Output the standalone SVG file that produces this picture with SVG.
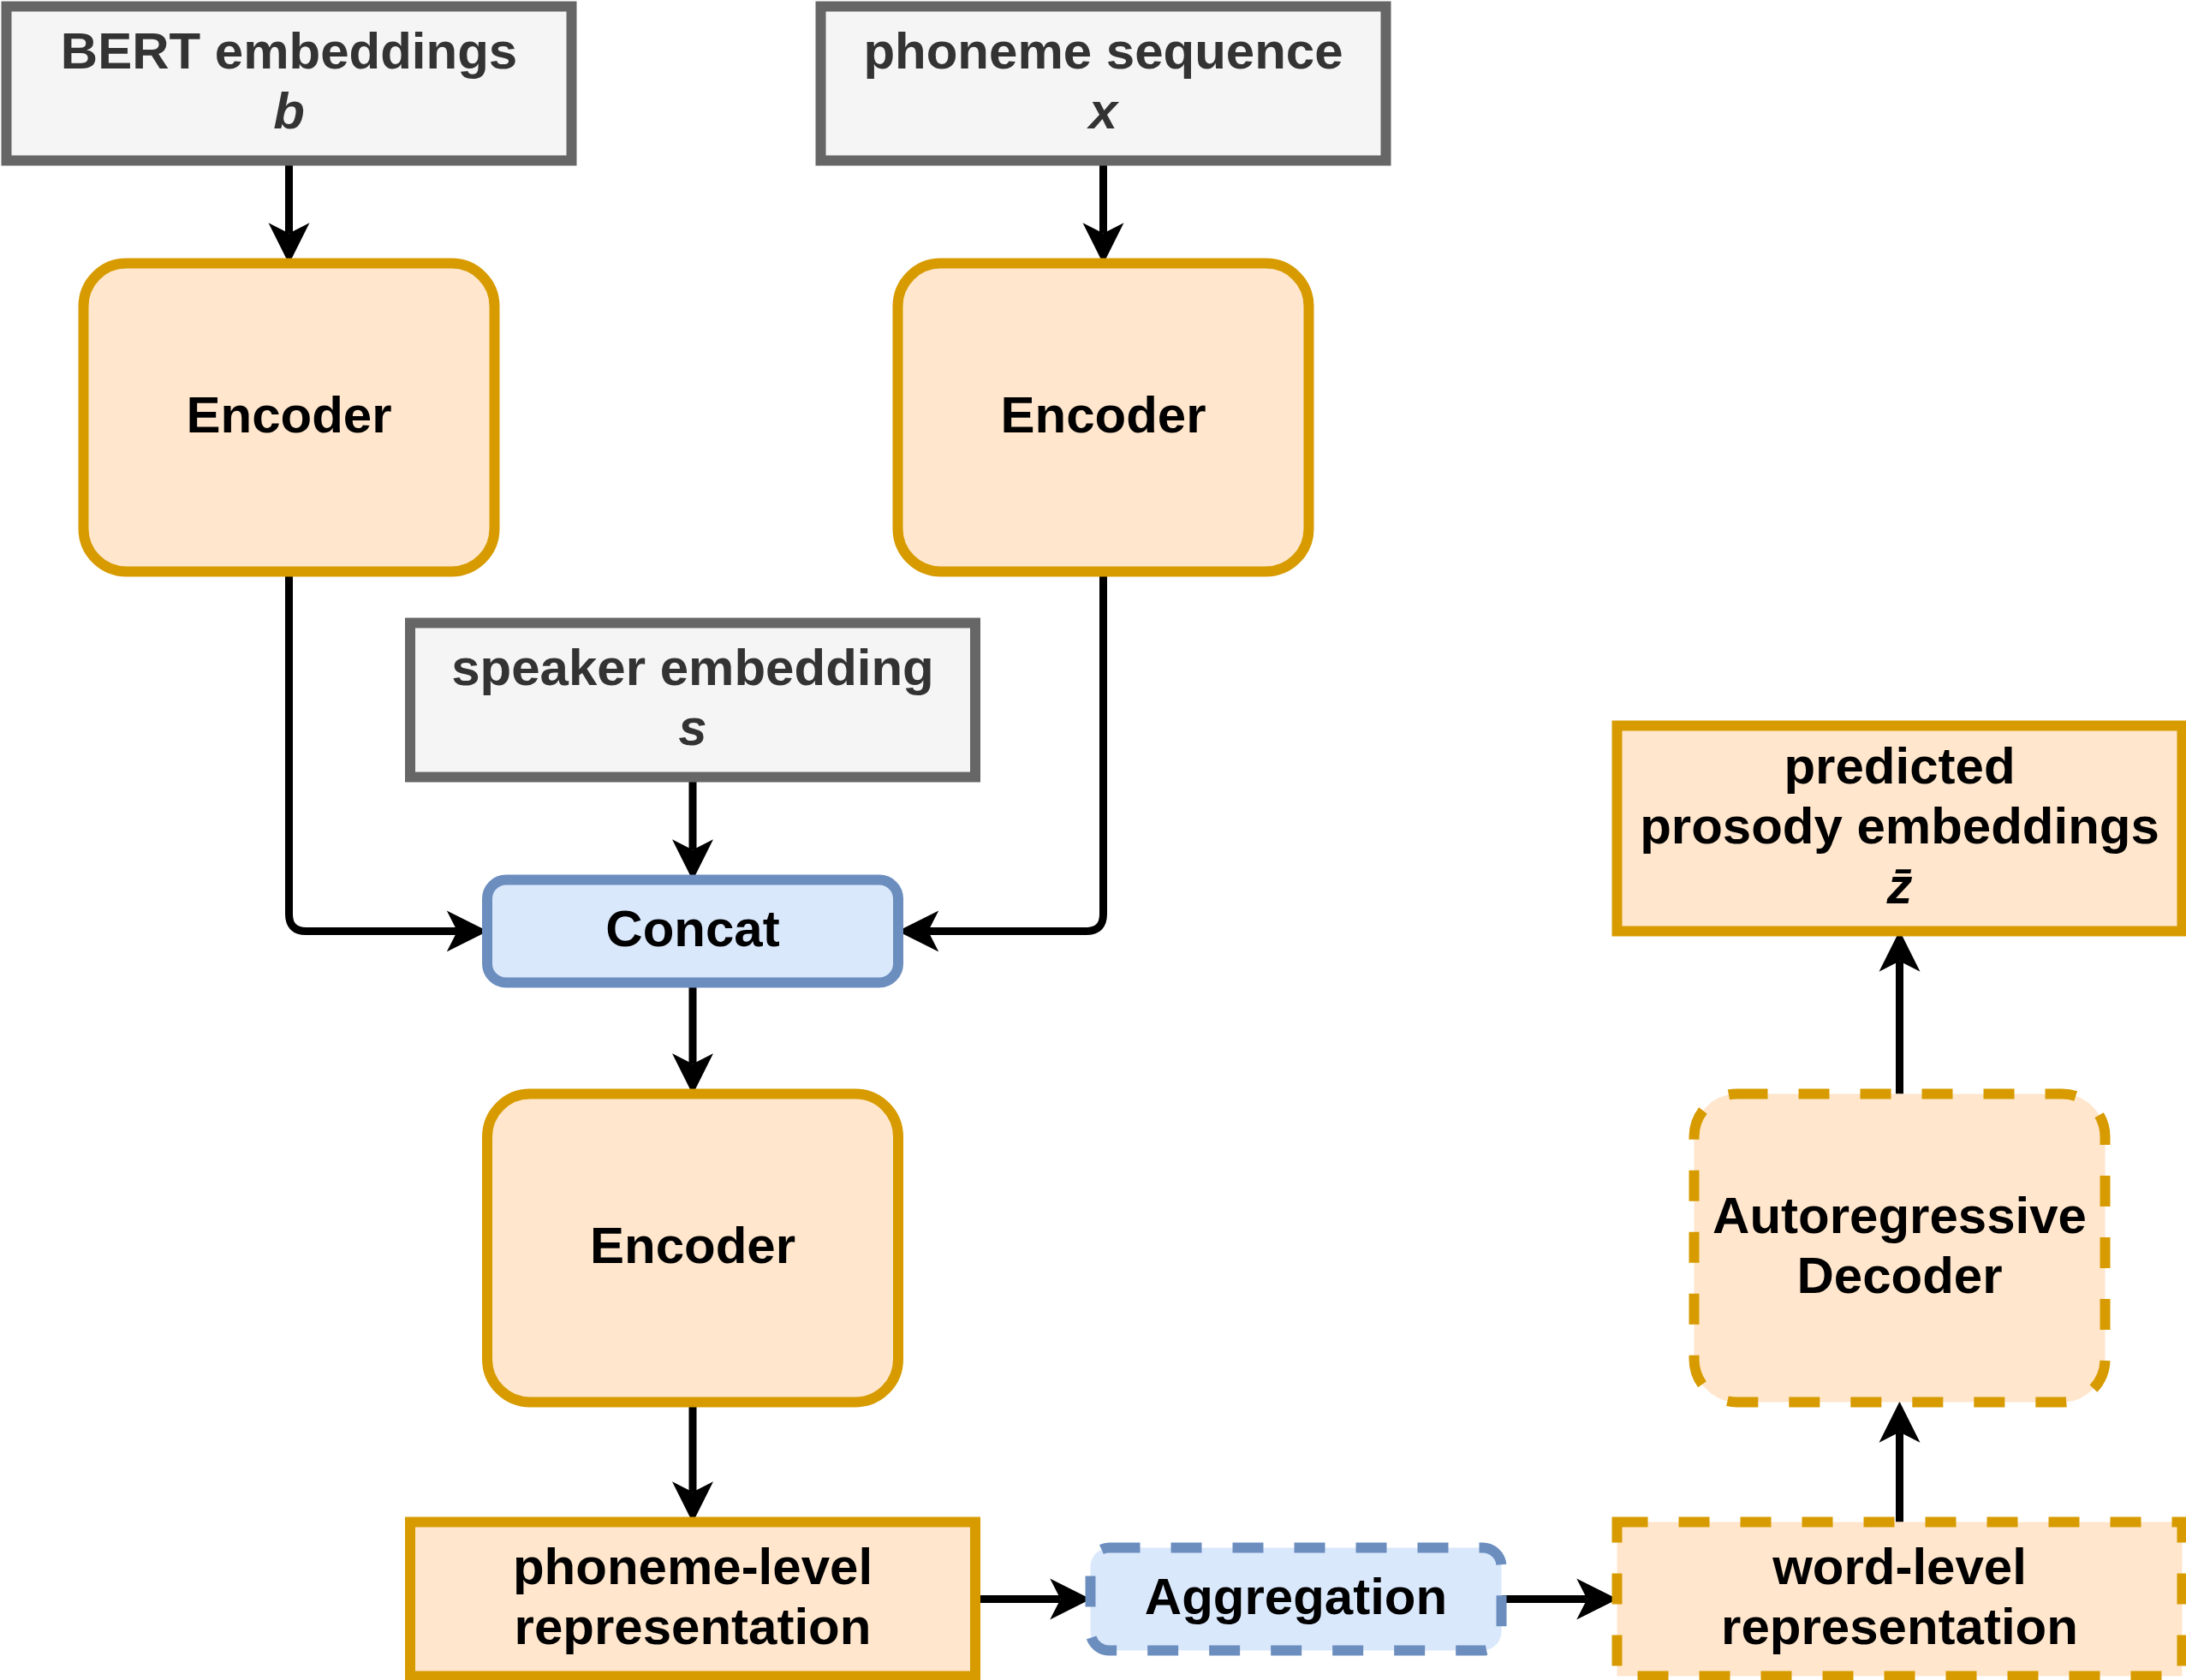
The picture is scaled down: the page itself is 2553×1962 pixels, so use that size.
<svg xmlns="http://www.w3.org/2000/svg" width="2553" height="1962" viewBox="0 0 2553 1962">
<style>
.gray{fill:#f5f5f5;stroke:#666666;stroke-width:12}
.orange{fill:#ffe6cc;stroke:#d79b00;stroke-width:12}
.blue{fill:#dae8fc;stroke:#6c8ebf;stroke-width:12}
.dash{stroke-dasharray:36 36}
text{font-family:"Liberation Sans",Arial,Helvetica,sans-serif;font-weight:bold;font-size:60px;text-anchor:middle}
.tg{fill:#333333}
.tb{fill:#000000}
.it{font-style:italic}
.edge{fill:none;stroke:#000000;stroke-width:9;marker-end:url(#arr)}
</style>
<defs>
<marker id="arr" markerUnits="userSpaceOnUse" markerWidth="48" markerHeight="48" viewBox="0 0 47 47" refX="12" refY="23.5" orient="auto" overflow="visible">
<path d="M0,0 L47,23.5 L0,47 L12,23.5 Z" fill="#000000"/>
</marker>
</defs>
<rect width="2553" height="1962" fill="#ffffff"/>
<g id="connectors">
<path class="edge" d="M337.5,187.5 V272.5"/>
<path class="edge" d="M1288.5,187.5 V272.5"/>
<path class="edge" d="M337.5,667.5 V1067.5 Q337.5,1087.5 357.5,1087.5 H534"/>
<path class="edge" d="M1288.5,667.5 V1067.5 Q1288.5,1087.5 1268.5,1087.5 H1084"/>
<path class="edge" d="M809,907.5 V992.5"/>
<path class="edge" d="M809,1147.5 V1242.5"/>
<path class="edge" d="M809,1637.5 V1742.5"/>
<path class="edge" d="M1138.5,1867.5 H1238.5"/>
<path class="edge" d="M1753.5,1867.5 H1853.5"/>
<path class="edge" d="M2218.5,1777.5 V1672.5"/>
<path class="edge" d="M2218.5,1277.5 V1122.5"/>
</g>
<g id="bert">
<rect class="gray" x="7.5" y="7.5" width="660" height="180"/>
<text class="tg" x="337.5" y="80">BERT embeddings</text>
<text class="tg it" x="337.5" y="150">b</text>
</g>
<g id="phoneme-seq">
<rect class="gray" x="958.5" y="7.5" width="660" height="180"/>
<text class="tg" x="1288.5" y="80">phoneme sequence</text>
<text class="tg it" x="1288.5" y="150">x</text>
</g>
<g id="encoder1">
<rect class="orange" x="97.5" y="307.5" width="480" height="360" rx="50" ry="50"/>
<text class="tb" x="337.5" y="505">Encoder</text>
</g>
<g id="encoder2">
<rect class="orange" x="1048.5" y="307.5" width="480" height="360" rx="50" ry="50"/>
<text class="tb" x="1288.5" y="505">Encoder</text>
</g>
<g id="speaker">
<rect class="gray" x="479" y="727.5" width="660" height="180"/>
<text class="tg" x="809" y="800">speaker embedding</text>
<text class="tg it" x="809" y="870">s</text>
</g>
<g id="concat">
<rect class="blue" x="569" y="1027.5" width="480" height="120" rx="22" ry="22"/>
<text class="tb" x="809" y="1105">Concat</text>
</g>
<g id="encoder3">
<rect class="orange" x="569" y="1277.5" width="480" height="360" rx="50" ry="50"/>
<text class="tb" x="809" y="1475">Encoder</text>
</g>
<g id="phoneme-level">
<rect class="orange" x="479" y="1777.5" width="660" height="180"/>
<text class="tb" x="809" y="1850">phoneme-level</text>
<text class="tb" x="809" y="1920">representation</text>
</g>
<g id="aggregation">
<rect class="blue dash" x="1273.5" y="1807.5" width="480" height="120" rx="22" ry="22"/>
<text class="tb" x="1513.5" y="1885">Aggregation</text>
</g>
<g id="word-level">
<rect class="orange dash" x="1888.5" y="1777.5" width="660" height="180"/>
<text class="tb" x="2218.5" y="1850">word-level</text>
<text class="tb" x="2218.5" y="1920">representation</text>
</g>
<g id="decoder">
<rect class="orange dash" x="1978.5" y="1277.5" width="480" height="360" rx="50" ry="50"/>
<text class="tb" x="2218.5" y="1440">Autoregressive</text>
<text class="tb" x="2218.5" y="1510">Decoder</text>
</g>
<g id="predicted">
<rect class="orange" x="1888.5" y="847.5" width="660" height="240"/>
<text class="tb" x="2218.5" y="915">predicted</text>
<text class="tb" x="2218.5" y="985">prosody embeddings</text>
<text class="tb it" x="2218.5" y="1055">z̄</text>
</g>
</svg>
